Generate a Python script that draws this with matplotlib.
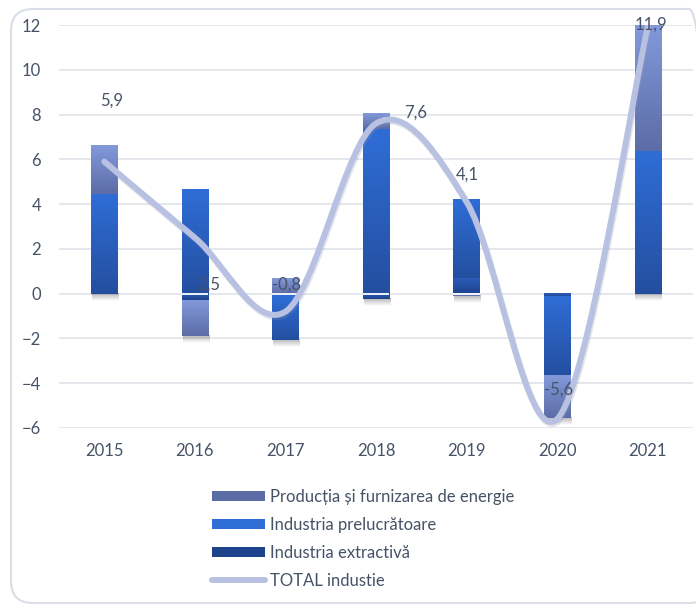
import numpy as np
import matplotlib
matplotlib.use("Agg")
import matplotlib.pyplot as plt
from matplotlib.path import Path
from matplotlib.patches import PathPatch, FancyBboxPatch, Patch
from matplotlib.lines import Line2D
from matplotlib.colors import LinearSegmentedColormap
import matplotlib.transforms as mtransforms

# ---------------- data ----------------
years = ["2015", "2016", "2017", "2018", "2019", "2020", "2021"]
extractiva = [0.05, -0.3, -0.05, -0.25, 0.7, -0.15, 0.05]
prelucratoare = [4.4, 4.65, -2.0, 7.35, 3.5, -3.5, 6.3]
energie = [2.15, -1.6, 0.7, 0.7, -0.1, -1.9, 5.6]
total = [5.9, 2.5, -0.8, 7.6, 4.1, -5.6, 11.9]
total_labels = ["5,9", "2,5", "-0,8", "7,6", "4,1", "-5,6", "11,9"]
label_pos = [(0.08, 8.6), (1.15, 0.4), (2.01, 0.4), (3.44, 8.1),
             (4.01, 5.3), (5.02, -4.3), (6.03, 12.0)]

series_names = ["Industria extractivă", "Industria prelucrătoare",
                "Producția și furnizarea de energie"]
series_vals = [extractiva, prelucratoare, energie]
series_grad = [("#2C5DB8", "#1D428C"),
               ("#2F6DD6", "#244FA0"),
               ("#8299DA", "#5C6CA6")]
line_color = "#B8C1E2"
text_color = "#465266"
grid_color = "#E2E6EC"

plt.rcParams['font.family'] = ['Lato', 'DejaVu Sans']

fig = plt.figure(figsize=(6.96, 6.06), dpi=100)
ax = fig.add_axes([59 / 696, 178 / 606, 634 / 696, 403 / 606])

x = np.arange(len(years))
width = 0.29
pos_base = np.zeros(len(years))
neg_base = np.zeros(len(years))

def grad_fill(x0, x1, y0, y1, ctop, cbot, z):
    cmap = LinearSegmentedColormap.from_list("g", [cbot, ctop])
    arr = np.linspace(0, 1, 64).reshape(-1, 1)
    ax.imshow(arr, cmap=cmap, extent=(x0, x1, y0, y1), origin="lower",
              aspect="auto", zorder=z, interpolation="bilinear")

for vals, (ct, cb), name in zip(series_vals, series_grad, series_names):
    v = np.array(vals)
    bottom = np.where(v >= 0, pos_base, neg_base)
    bars = ax.bar(x, v, width, bottom=bottom, color=cb, zorder=2, linewidth=0)
    for p in bars:
        bx, by, bw, bh = p.get_x(), p.get_y(), p.get_width(), p.get_height()
        lo, hi = min(by, by + bh), max(by, by + bh)
        if hi - lo > 0:
            grad_fill(bx, bx + bw, lo, hi, ct, cb, 3)
    pos_base = pos_base + np.where(v >= 0, v, 0)
    neg_base = neg_base + np.where(v < 0, v, 0)

# soft shadow under each stack
for i in range(len(years)):
    bot = neg_base[i]
    sh = np.zeros((32, 1, 4))
    sh[..., :3] = 0.35
    sh[:, 0, 3] = np.linspace(0.0, 0.45, 32)
    ax.imshow(sh, extent=(x[i] - width / 2 + 0.01, x[i] + width / 2 + 0.01,
                          bot - 0.32, bot), origin="lower", aspect="auto",
              zorder=1.5, interpolation="bilinear")
    if neg_base[i] < 0 and pos_base[i] > 0:
        ax.hlines(0, x[i] - width / 2, x[i] + width / 2, color="white",
                  lw=1.3, zorder=4)

# smooth total line (Catmull-Rom -> cubic Bezier)
pts = np.column_stack([x, total]).astype(float)
n = len(pts)
verts = [pts[0]]
codes = [Path.MOVETO]
for i in range(n - 1):
    pm = pts[i - 1] if i > 0 else pts[i]
    p0, p1 = pts[i], pts[i + 1]
    p2 = pts[i + 2] if i + 2 < n else pts[i + 1]
    c1 = p0 + (p1 - pm) / 6
    c2 = p1 - (p2 - p0) / 6
    verts += [c1, c2, p1]
    codes += [Path.CURVE4] * 3
path = Path(verts, codes)
shadow = PathPatch(path, facecolor="none", edgecolor="#9098B0", lw=4.6,
                   alpha=0.25, zorder=4.5, capstyle="round",
                   transform=ax.transData + mtransforms.ScaledTranslation(1 / 100, -2 / 100, fig.dpi_scale_trans))
ax.add_patch(shadow)
ax.add_patch(PathPatch(path, facecolor="none", edgecolor=line_color, lw=4.3,
                       zorder=5, capstyle="round", joinstyle="round"))

for (lx, ly), t in zip(label_pos, total_labels):
    ax.text(lx, ly, t, ha="center", va="center", fontsize=12,
            color=text_color, zorder=6)

ax.set_xlim(-0.5, len(years) - 0.5)
ax.set_ylim(-6, 12)
ax.set_yticks(np.arange(-6, 13, 2))
ax.set_xticks(x)
ax.set_xticklabels(years)
ax.tick_params(axis="both", length=0, labelsize=12, labelcolor=text_color)
ax.tick_params(axis="y", pad=13)
ax.tick_params(axis="x", pad=11)
ax.grid(axis="y", color=grid_color, lw=1.3, zorder=0)
ax.set_axisbelow(True)
for s in ax.spines.values():
    s.set_visible(False)
ax.patch.set_alpha(0)

# legend
handles = [Patch(facecolor=series_grad[2][1], edgecolor="none"),
           Patch(facecolor=series_grad[1][0], edgecolor="none"),
           Patch(facecolor=series_grad[0][1], edgecolor="none"),
           Line2D([], [], color=line_color, lw=4.3, solid_capstyle="round")]
labels = [series_names[2], series_names[1], series_names[0], "TOTAL industie"]
leg = fig.legend(handles, labels, loc="center", bbox_to_anchor=(0.522, 0.111),
                 frameon=False, fontsize=12, labelcolor=text_color,
                 handlelength=3.2, handleheight=0.6, handletextpad=0.3,
                 labelspacing=0.72)

# rounded chart border
border = FancyBboxPatch((11, 3), 700, 594, boxstyle="round,pad=0,rounding_size=22",
                        transform=None, facecolor="none", edgecolor="#D9DEE6",
                        lw=1.5, zorder=-1)
fig.patches.append(border)

fig.savefig("out.png", dpi=100)
